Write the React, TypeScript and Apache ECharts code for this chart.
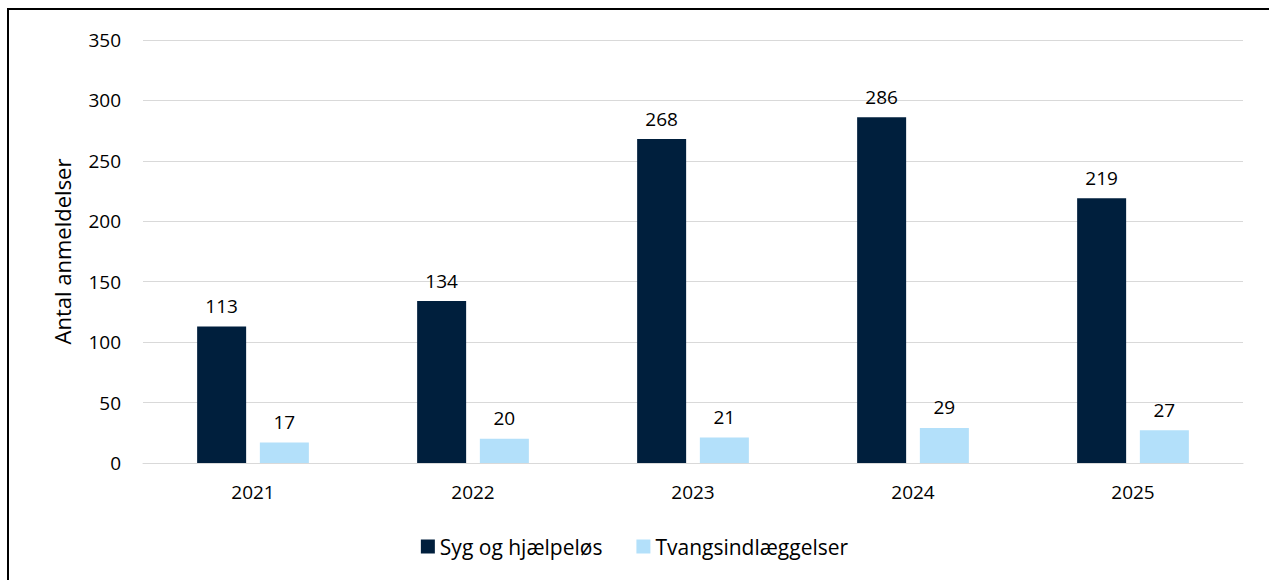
import React, { useEffect, useRef } from "react";
import * as echarts from "echarts";

const categories = ["2021", "2022", "2023", "2024", "2025"];
const sygValues = [113, 134, 268, 286, 219];
const tvangValues = [17, 20, 21, 29, 27];
const seriesNames = ["Syg og hjælpeløs", "Tvangsindlæggelser"];
const yAxisName = "Antal anmeldelser";

const FONT = "'Open Sans', 'Noto Sans', sans-serif";

export default function App() {
  const ref = useRef<HTMLDivElement>(null);
  useEffect(() => {
    if (!ref.current) return;
    const chart = echarts.init(ref.current, null, { renderer: "svg" });
    const labelStyle = {
      show: true,
      position: "top",
      distance: 11,
      fontSize: 19,
      color: "#000000",
      fontFamily: FONT,
    };
    chart.setOption({
      animation: false,
      backgroundColor: "#ffffff",
      textStyle: { fontFamily: FONT },
      graphic: [
        {
          type: "rect",
          shape: { x: 8, y: 9, width: 1300, height: 600 },
          style: { fill: "none", stroke: "#000000", lineWidth: 2 },
          silent: true,
        },
      ],
      grid: { left: 143, right: 26, top: 40, bottom: 117 },
      legend: {
        bottom: 18,
        left: "center",
        itemWidth: 14,
        itemHeight: 14,
        itemGap: 34,
        icon: "rect",
        textStyle: { fontSize: 21, color: "#000000", fontFamily: FONT },
        data: seriesNames,
      },
      xAxis: {
        type: "category",
        data: categories,
        axisLine: { lineStyle: { color: "#d9d9d9", width: 1 } },
        axisTick: { show: false },
        axisLabel: { fontSize: 19, color: "#000000", margin: 19, fontFamily: FONT },
      },
      yAxis: {
        type: "value",
        min: 0,
        max: 350,
        interval: 50,
        name: yAxisName,
        nameLocation: "middle",
        nameGap: 70,
        nameTextStyle: { fontSize: 22, color: "#000000", fontFamily: FONT },
        axisLine: { show: false },
        axisTick: { show: false },
        splitLine: { lineStyle: { color: "#d9d9d9", width: 1 } },
        axisLabel: { fontSize: 19, color: "#000000", margin: 22, fontFamily: FONT },
      },
      series: [
        {
          name: seriesNames[0],
          type: "bar",
          data: sygValues,
          barWidth: 49,
          barGap: "28%",
          itemStyle: { color: "#001f3d" },
          label: labelStyle,
        },
        {
          name: seriesNames[1],
          type: "bar",
          data: tvangValues,
          barWidth: 49,
          barGap: "28%",
          itemStyle: { color: "#b3e0fa" },
          label: labelStyle,
        },
      ],
    });
    return () => chart.dispose();
  }, []);
  return (
    <div
      ref={ref}
      style={{ position: "fixed", left: 0, top: 0, width: 1269, height: 580 }}
    />
  );
}
